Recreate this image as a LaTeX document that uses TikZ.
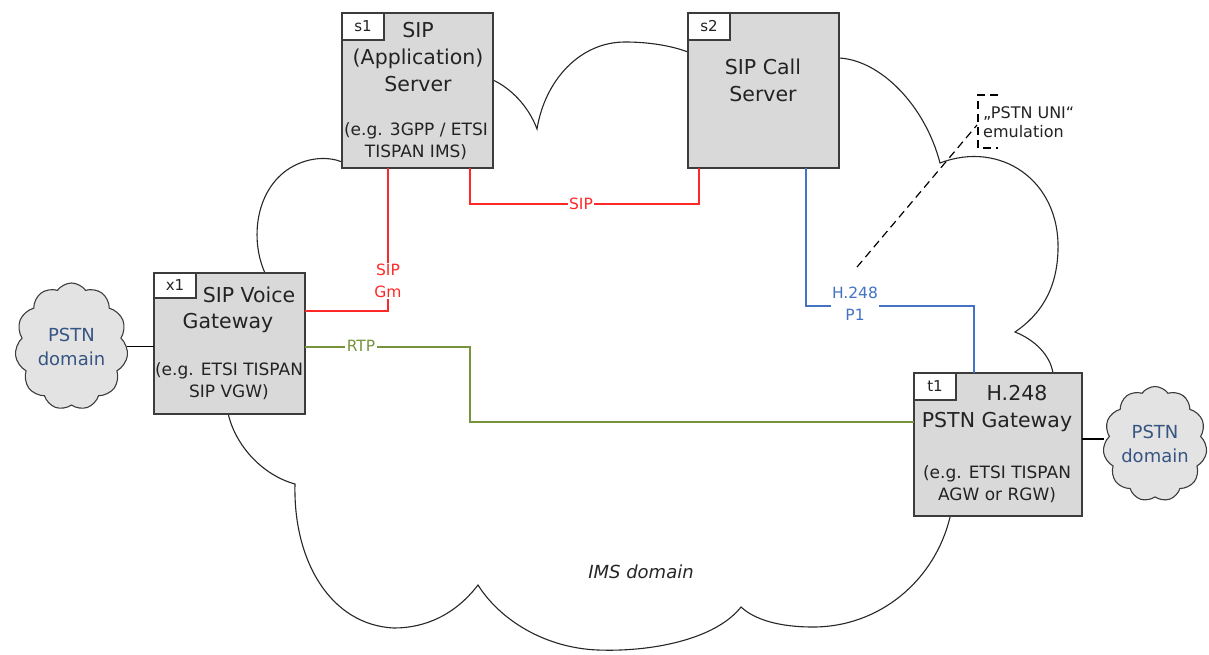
\documentclass[tikz,border=0pt]{standalone}
\usepackage{fontspec}
\setmainfont{DejaVu Sans}
\usetikzlibrary{shapes.symbols}
\definecolor{sipred}{RGB}{255,40,40}
\definecolor{hblue}{RGB}{68,114,196}
\definecolor{rtpgreen}{RGB}{119,147,60}
\definecolor{pstnblue}{RGB}{55,85,130}
\definecolor{boxgray}{RGB}{217,217,217}
\definecolor{edge}{RGB}{60,60,60}
\definecolor{txt}{RGB}{35,35,35}
\begin{document}
\begin{tikzpicture}[x=1pt,y=-1pt,
  box/.style={draw=edge, fill=boxgray, line width=1.8pt, rectangle, inner sep=0pt, outer sep=0pt},
  tab/.style={draw=edge, fill=white, line width=1.3pt, minimum width=42pt, minimum height=27pt, anchor=north west, font=\fontsize{15}{17}\selectfont, text=txt, inner sep=0pt, outer sep=0pt},
  title/.style={align=center, text=txt, inner sep=0pt, font=\fontsize{20.5}{27}\selectfont},
  sub/.style={align=center, text=txt, inner sep=0pt, font=\fontsize{17}{22}\selectfont},
  conn/.style={line width=2.3pt},
  sip/.style={conn, draw=sipred},
  h248/.style={conn, draw=hblue},
  rtp/.style={conn, draw=rtpgreen},
  lbl/.style={fill=white, inner sep=1.5pt, align=center, font=\fontsize{15.5}{22}\selectfont},
  pstn/.style={cloud, cloud puffs=11, cloud puff arc=110, cloud ignores aspect, draw=edge, fill=gray!22, line width=1.1pt, text=pstnblue, align=center, font=\fontsize{18}{24}\selectfont, inner sep=0pt},
  imsline/.style={draw=black!85, line width=1.1pt}
]
\useasboundingbox (0,0) rectangle (1209,654);

% IMS cloud
\draw[imsline] (493,80) .. controls (510,88) and (528,105) .. (537,129)
  .. controls (545,80) and (580,42) .. (625,42) .. controls (650,42) and (672,46) .. (688,52)
  -- (839,58)
  .. controls (880,60) and (925,105) .. (940,163)
  .. controls (1000,140) and (1060,180) .. (1058,250) .. controls (1057,290) and (1040,315) .. (1015,332)
  .. controls (1035,340) and (1050,355) .. (1053,373)
  -- (955,505) -- (950,517)
  .. controls (935,580) and (880,627) .. (813,627) .. controls (780,627) and (755,620) .. (741,607)
  .. controls (715,640) and (650,652) .. (598,650) .. controls (545,648) and (500,620) .. (478,585)
  .. controls (455,615) and (425,628) .. (394,628) .. controls (330,625) and (293,560) .. (295,484)
  .. controls (262,475) and (235,445) .. (228,413)
  -- (265,273)
  .. controls (250,240) and (255,190) .. (290,168) .. controls (310,156) and (330,157) .. (342,162)
  -- cycle;
\node[text=black!85, font=\fontsize{18}{22}\selectfont\itshape] (ims) at (641,572) {IMS domain};

% PSTN clouds
\node[pstn, minimum width=113pt, minimum height=127pt] (pl) at (71.5,346.5) {PSTN\\domain};
\node[pstn, minimum width=104pt, minimum height=115pt] (pr) at (1155,444) {PSTN\\domain};

% boxes
\node[box, minimum width=151pt, minimum height=155pt] (s1) at (417.5,90.5) {};
\node[box, minimum width=151pt, minimum height=155pt] (s2) at (763.5,90.5) {};
\node[box, minimum width=151pt, minimum height=141pt] (x1) at (229.5,343.5) {};
\node[box, minimum width=168pt, minimum height=143pt] (t1) at (998,444.5) {};

% connectors
\draw[sip] ([xshift=46pt]s1.south west) |- ([yshift=-38pt]x1.north east);
\draw[sip] ([xshift=-23pt]s1.south east) -- ++(0,36) -| ([xshift=11pt]s2.south west);
\draw[h248] ([xshift=-33pt]s2.south east) -- ++(0,138) -| ([xshift=60pt]t1.north west);
\draw[rtp] ([yshift=-74pt]x1.north east) -- ++(165,0) |- ([yshift=-49pt]t1.north west);
\draw[line width=1.6pt] (pl.east) -- (pl.east -| x1.west);
\coordinate (rj) at ([yshift=-66pt]t1.north east);
\draw[line width=1.6pt] (rj) -- (rj -| pr.west);

\node[lbl, text=sipred] (gm) at (388,281) {SIP\\Gm};
\node[lbl, text=sipred] (sipl) at (581,204) {SIP};
\node[lbl, text=hblue] (hl) at (855,304) {H.248\\P1};
\node[lbl, text=rtpgreen] (rtpl) at (361,346) {RTP};

% tabs
\node[tab] (s1t) at (s1.north west) {s1};
\node[tab] (s2t) at (s2.north west) {s2};
\node[tab, minimum height=25pt] (x1t) at (x1.north west) {x1};
\node[tab] (t1t) at (t1.north west) {t1};

% box texts
\node[title] (s1a) at (418,57) {SIP\\(Application)\\Server};
\node[sub] (s1b) at (416,141) {(e.g. 3GPP / ETSI\\TISPAN IMS)};
\node[title] (s2a) at (763,80) {SIP Call\\Server};
\node[title] (x1a) at (249,295) {SIP Voice};
\node[title] (x1b) at (228,323) {Gateway};
\node[sub] (x1c) at (229,381) {(e.g. ETSI TISPAN\\SIP VGW)};
\node[title] (t1a) at (1017,393) {H.248};
\node[title] (t1b) at (997,422) {PSTN Gateway};
\node[sub] (t1c) at (997,484) {(e.g. ETSI TISPAN\\AGW or RGW)};

% annotation
\coordinate (dstart) at (857,267);
\coordinate (dend) at (977,125);
\draw[line width=1.2pt, dash pattern=on 8pt off 5pt] (dstart) -- (dend);
\draw[line width=1.2pt, dash pattern=on 8pt off 5pt] (998,95) -- (978,95) -- (978,148) -- (998,148);
\node[anchor=west, align=left, text=txt, inner sep=0pt, font=\fontsize{16}{19}\selectfont] (note) at (983,122) {„PSTN UNI“\\emulation};
\end{tikzpicture}
\end{document}
